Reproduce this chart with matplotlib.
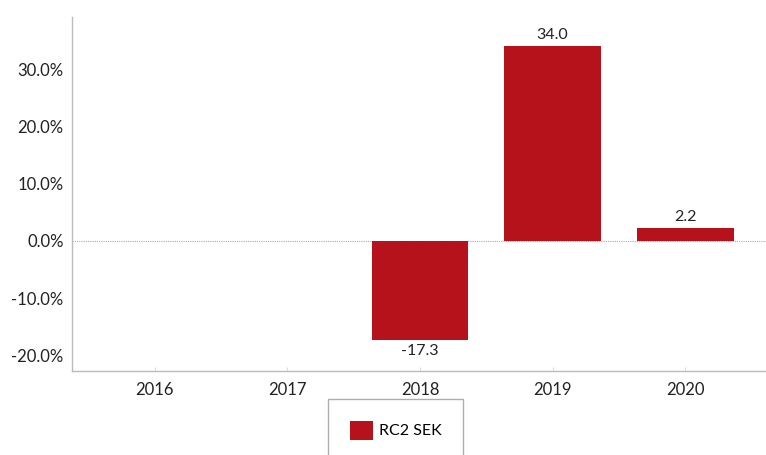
import numpy as np
import matplotlib.pyplot as plt
from matplotlib.ticker import FuncFormatter

years = ["2016", "2017", "2018", "2019", "2020"]
returns = [np.nan, np.nan, -17.3, 34.0, 2.2]
series_name = "RC2 SEK"
bar_color = "#B5121B"

plt.rcParams["font.family"] = ["Lato", "DejaVu Sans"]

fig = plt.figure(figsize=(7.66, 4.55), dpi=100)
ax = fig.add_axes([72 / 766, 1 - 371 / 455, (766 - 72) / 766, (371 - 17) / 455])

x = np.arange(len(years))
vals = np.array(returns, dtype=float)
bars = ax.bar(x, np.nan_to_num(vals), width=0.73, color=bar_color, label=series_name, zorder=3)

for xi, v in zip(x, vals):
    if np.isnan(v):
        continue
    if v >= 0:
        ax.annotate(f"{v:.1f}", (xi, v), xytext=(0, 3), textcoords="offset points",
                    ha="center", va="bottom", fontsize=11.5, color="#222222")
    else:
        ax.annotate(f"{v:.1f}", (xi, v), xytext=(0, -3), textcoords="offset points",
                    ha="center", va="top", fontsize=11.5, color="#222222")

ax.axhline(0, color="#aaaaaa", lw=0.8, ls=(0, (1, 1)), zorder=2)

ax.set_xlim(-0.625, 4.61)
ax.set_ylim(-22.7, 39.1)
ax.set_yticks([-20, -10, 0, 10, 20, 30])
ax.yaxis.set_major_formatter(FuncFormatter(lambda v, p: f"{v:.1f}%"))
ax.set_xticks(x)
ax.set_xticklabels(years)

for s in ["top", "right"]:
    ax.spines[s].set_visible(False)
for s in ["left", "bottom"]:
    ax.spines[s].set_color("#bbbbbb")
    ax.spines[s].set_linewidth(1)
ax.tick_params(axis="y", length=0, labelsize=12, colors="#222222", pad=6)
ax.tick_params(axis="x", direction="in", length=3, color="#dddddd", labelsize=12,
               labelcolor="#222222", pad=8)

# legend box runs past the bottom edge of the figure, as in the original
leg = fig.legend(loc="upper left", bbox_to_anchor=(328 / 766, 1 - 399 / 455),
                 frameon=True, fancybox=False, fontsize=11.5, handlelength=1.45,
                 handleheight=1.45, borderpad=1.35, handletextpad=0.4, borderaxespad=0)
leg.get_frame().set_edgecolor("#999999")
leg.get_frame().set_linewidth(1)

fig.savefig("out.png", dpi=100)
